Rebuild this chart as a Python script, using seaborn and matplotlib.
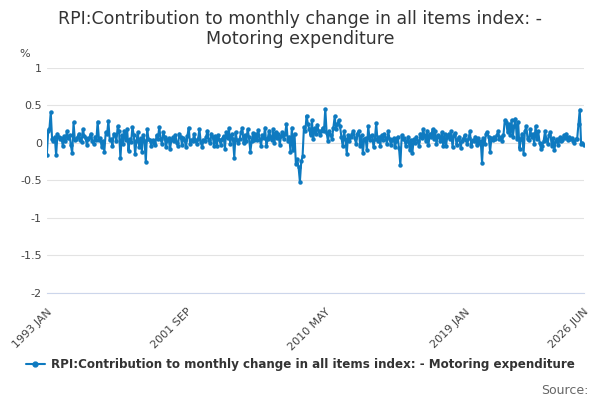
import matplotlib
matplotlib.use("Agg")
import matplotlib.pyplot as plt
import seaborn as sns
import pandas as pd
import numpy as np

values_by_year = {
1993: [-0.17, 0.15, 0.18, 0.41, 0.05, 0.02, 0.08, -0.17, 0.12, 0.08, 0.05, 0.06],
1994: [-0.05, 0.09, 0.02, 0.15, 0.06, 0.10, -0.03, -0.14, 0.27, 0.03, 0.05, 0.08],
1995: [0.12, 0.04, 0.01, 0.18, 0.09, 0.06, -0.03, 0.05, 0.08, 0.12, 0.02, -0.02],
1996: [0.08, 0.03, 0.28, 0.04, 0.06, -0.06, 0.02, -0.12, 0.14, 0.11, 0.29, 0.03],
1997: [0.05, -0.04, 0.12, 0.10, 0.02, 0.22, 0.15, -0.21, 0.10, -0.02, 0.16, 0.04],
1998: [0.18, -0.11, 0.05, 0.01, 0.21, 0.10, -0.15, 0.02, 0.14, -0.06, 0.06, -0.12],
1999: [0.10, 0.02, -0.26, 0.18, 0.05, 0.04, -0.04, 0.03, 0.00, -0.03, 0.10, 0.05],
2000: [0.21, 0.05, -0.02, 0.14, 0.08, -0.06, 0.03, 0.06, -0.09, 0.03, 0.07, 0.02],
2001: [0.10, 0.00, -0.04, 0.12, 0.08, -0.03, 0.06, 0.03, -0.06, 0.09, 0.20, -0.02],
2002: [0.04, 0.02, 0.12, 0.03, -0.02, 0.05, 0.18, 0.01, -0.06, 0.04, 0.02, 0.08],
2003: [0.16, 0.03, -0.01, 0.12, 0.08, -0.04, 0.09, -0.04, 0.10, 0.03, -0.03, 0.05],
2004: [0.09, -0.08, 0.14, 0.06, 0.19, -0.02, 0.11, 0.05, -0.20, 0.14, 0.03, -0.01],
2005: [0.05, 0.14, 0.19, -0.01, 0.10, 0.02, 0.18, 0.07, -0.12, 0.02, 0.13, 0.03],
2006: [0.12, 0.04, 0.17, 0.05, -0.04, 0.10, 0.06, 0.20, -0.05, 0.05, 0.16, 0.08],
2007: [0.03, 0.18, -0.01, 0.14, 0.06, 0.12, -0.03, 0.09, 0.14, 0.05, 0.12, 0.25],
2008: [0.02, 0.08, -0.12, 0.20, -0.10, 0.12, -0.28, -0.22, -0.33, -0.52, -0.25, -0.18],
2009: [0.21, 0.15, 0.36, 0.25, 0.18, 0.10, 0.30, 0.05, 0.20, 0.12, 0.24, 0.15],
2010: [0.10, 0.15, 0.20, 0.16, 0.45, 0.13, 0.02, 0.15, 0.10, 0.05, 0.20, 0.35],
2011: [0.18, 0.25, 0.30, 0.22, 0.08, -0.05, 0.15, 0.05, -0.15, 0.10, 0.02, 0.08],
2012: [0.12, 0.15, 0.06, -0.02, 0.12, 0.16, -0.04, 0.10, -0.14, 0.05, 0.06, -0.10],
2013: [0.22, 0.04, 0.09, 0.10, -0.06, 0.05, 0.26, 0.02, 0.08, -0.04, 0.10, 0.04],
2014: [0.12, 0.06, -0.02, 0.15, 0.05, -0.03, 0.03, 0.06, -0.06, 0.02, 0.08, -0.07],
2015: [-0.30, 0.10, 0.05, 0.06, -0.04, 0.02, 0.08, -0.10, 0.03, -0.14, 0.05, 0.00],
2016: [0.08, 0.02, -0.05, 0.12, 0.06, 0.18, 0.10, 0.02, 0.16, -0.03, 0.12, 0.08],
2017: [0.18, 0.05, 0.15, -0.02, 0.10, 0.08, 0.02, 0.14, -0.04, 0.11, -0.05, 0.07],
2018: [0.12, 0.05, 0.15, -0.06, 0.10, 0.13, -0.03, 0.05, 0.08, -0.07, 0.02, 0.05],
2019: [0.10, 0.04, -0.02, 0.06, 0.15, -0.05, 0.03, 0.02, 0.08, -0.03, 0.06, 0.00],
2020: [0.02, -0.27, 0.06, -0.02, 0.12, 0.14, 0.08, -0.12, 0.06, 0.03, 0.08, 0.05],
2021: [0.10, 0.15, 0.05, 0.08, 0.02, 0.10, 0.30, 0.28, 0.14, 0.25, 0.10, 0.30],
2022: [0.08, 0.22, 0.32, 0.05, 0.28, -0.08, 0.05, 0.12, -0.15, 0.15, 0.22, 0.05],
2023: [0.03, 0.18, 0.08, 0.12, -0.02, 0.22, 0.05, 0.15, 0.00, -0.08, -0.04, 0.02],
2024: [0.15, 0.05, -0.02, 0.10, 0.14, -0.04, 0.06, -0.10, 0.02, 0.05, -0.03, 0.07],
2025: [0.02, 0.04, 0.10, 0.06, 0.12, 0.03, 0.08, 0.05, 0.06, 0.02, 0.00, 0.05],
2026: [0.05, 0.25, 0.44, -0.02, 0.00, -0.03],
}

values = [v for y in sorted(values_by_year) for v in values_by_year[y]]
dates = pd.date_range("1993-01-01", periods=len(values), freq="MS")
df = pd.DataFrame({"date": dates, "value": values})

label = "RPI:Contribution to monthly change in all items index: - Motoring expenditure"
tick_dates = pd.to_datetime(["1993-01-01", "2001-09-01", "2010-05-01", "2019-01-01", "2026-06-01"])
tick_labels = ["1993 JAN", "2001 SEP", "2010 MAY", "2019 JAN", "2026 JUN"]

sns.set_style("white")
plt.rcParams['font.family'] = ['DejaVu Sans']
fig = plt.figure(figsize=(6, 4), dpi=100)
ax = fig.add_axes([0.078, 0.268, 0.895, 0.563])
col = "#0e7ac0"
sns.lineplot(data=df, x="date", y="value", ax=ax, color=col, linewidth=1.5,
             marker="o", markersize=3.2, markeredgewidth=0, label=label, legend=False)
ax.set_ylim(-2, 1)
ax.set_yticks([1, 0.5, 0, -0.5, -1, -1.5, -2])
ax.set_yticklabels(["1", "0.5", "0", "-0.5", "-1", "-1.5", "-2"], fontsize=8, color="#444444")
ax.set_xlim(dates[0], dates[-1])
ax.set_xticks(tick_dates)
ax.set_xticklabels(tick_labels, rotation=45, ha="right", rotation_mode="anchor", fontsize=8, color="#444444")
ax.grid(axis="y", color="#e3e3e3", linewidth=0.8)
for s in ["top", "right", "left"]:
    ax.spines[s].set_visible(False)
ax.spines["bottom"].set_color("#ccd6eb")
ax.tick_params(axis="x", length=8, color="#ccd6eb", pad=2)
ax.tick_params(axis="y", length=0)
ax.set_xlabel(""); ax.set_ylabel("")
fig.text(0.5, 0.975, "RPI:Contribution to monthly change in all items index: -\nMotoring expenditure",
         ha="center", va="top", fontsize=12.5, color="#333333", linespacing=1.15)
fig.text(0.033, 0.858, "%", fontsize=8, color="#444444")
handle = plt.Line2D([], [], color=col, marker="o", markersize=3.5, linewidth=1.5)
fig.legend([handle], [label], loc="lower center", bbox_to_anchor=(0.5, 0.045), frameon=False,
           prop={"size": 8.6, "weight": "bold"}, labelcolor="#333333", handlelength=1.6, handletextpad=0.5)
fig.text(0.98, 0.015, "Source:", ha="right", fontsize=9, color="#666666")
fig.savefig("out.png", dpi=100)
